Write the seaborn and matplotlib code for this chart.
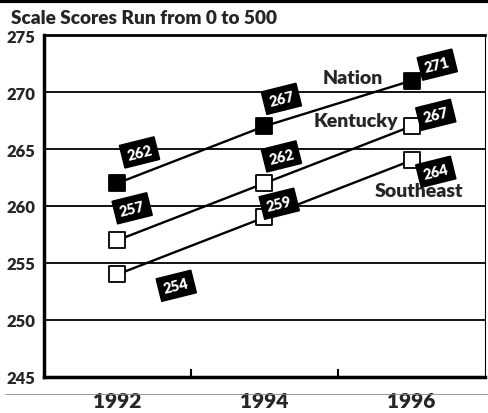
import matplotlib
matplotlib.use("Agg")
import matplotlib.pyplot as plt
import seaborn as sns
import pandas as pd

years = [1992, 1994, 1996]
nation = [262, 267, 271]
kentucky = [257, 262, 267]
southeast = [254, 259, 264]
y_ticks = [245, 250, 255, 260, 265, 270, 275]
title = "Scale Scores Run from 0 to 500"

rows = []
for name, vals in [("Nation", nation), ("Kentucky", kentucky), ("Southeast", southeast)]:
    for yr, v in zip(years, vals):
        rows.append({"year": yr, "score": v, "group": name})
df = pd.DataFrame(rows)

sns.set_theme(style="white")
plt.rcParams["font.family"] = ["Lato", "DejaVu Sans"]
W = "heavy"

fig = plt.figure(figsize=(4.88, 4.14), dpi=100)
ax = fig.add_axes([0.090, 0.087, 0.904, 0.826])

# gridlines behind the series
for yv in y_ticks[1:-1]:
    ax.axhline(yv, color="black", lw=1.3, zorder=1)

sns.lineplot(data=df, x="year", y="score", hue="group",
             palette={"Nation": "black", "Kentucky": "black", "Southeast": "black"},
             lw=1.7, legend=False, ax=ax, zorder=2)

# markers: filled for Nation, hollow for the others
face = {"Nation": "black", "Kentucky": "white", "Southeast": "white"}
for name, vals in [("Nation", nation), ("Kentucky", kentucky), ("Southeast", southeast)]:
    ax.scatter(years, vals, marker="s", s=120, facecolor=face[name],
               edgecolor="black", linewidth=1.3, zorder=3)

# rotated value tags
offsets = {
    "Nation": [(0.30, 2.7), (0.23, 2.4), (0.35, 1.4)],
    "Kentucky": [(0.20, 2.8), (0.23, 2.35), (0.33, 1.0)],
    "Southeast": [(0.80, -1.0), (0.20, 1.2), (0.33, -1.0)],
}
for name, vals in [("Nation", nation), ("Kentucky", kentucky), ("Southeast", southeast)]:
    for yr, v, (dx, dy) in zip(years, vals, offsets[name]):
        ax.text(yr + dx, v + dy, str(v), color="white", fontsize=10.5,
                fontweight=W, ha="center", va="center", rotation=14,
                bbox=dict(boxstyle="square,pad=0.35", fc="black", ec="black"),
                zorder=4)

# series names
ax.text(1995.2, 271.3, "Nation", fontsize=14, fontweight=W, ha="center", va="center")
ax.text(1995.24, 267.5, "Kentucky", fontsize=14, fontweight=W, ha="center", va="center")
ax.text(1996.1, 261.4, "Southeast", fontsize=14, fontweight=W, ha="center", va="center")

ax.set_xlim(1991, 1997)
ax.set_ylim(245, 275)
ax.set_yticks(y_ticks)
ax.set_yticklabels([str(t) for t in y_ticks], fontsize=12, fontweight=W)
ax.set_xticks(years)
ax.set_xticklabels([str(y) for y in years], fontsize=15, fontweight=W)
ax.set_xticks([1993, 1995], minor=True)
ax.tick_params(axis="x", which="major", length=0, pad=10)
ax.tick_params(axis="x", which="minor", direction="in", length=6, width=1.5, color="black", bottom=True)
ax.tick_params(axis="y", length=0, pad=6)
ax.set_xlabel("")
ax.set_ylabel("")

for side, w in [("left", 2.5), ("bottom", 2.5), ("top", 2.0), ("right", 0.8)]:
    ax.spines[side].set_visible(True)
    ax.spines[side].set_color("black")
    ax.spines[side].set_linewidth(w)

fig.text(0.022, 0.955, title, fontsize=13.7, fontweight=W, ha="left", va="center")
fig.add_artist(plt.Line2D([0, 1], [0.995, 0.995], color="black", lw=3, transform=fig.transFigure))
fig.add_artist(plt.Line2D([0.01, 1], [0.047, 0.047], color="#888888", lw=0.6, transform=fig.transFigure))

fig.savefig("out.png", dpi=100)
